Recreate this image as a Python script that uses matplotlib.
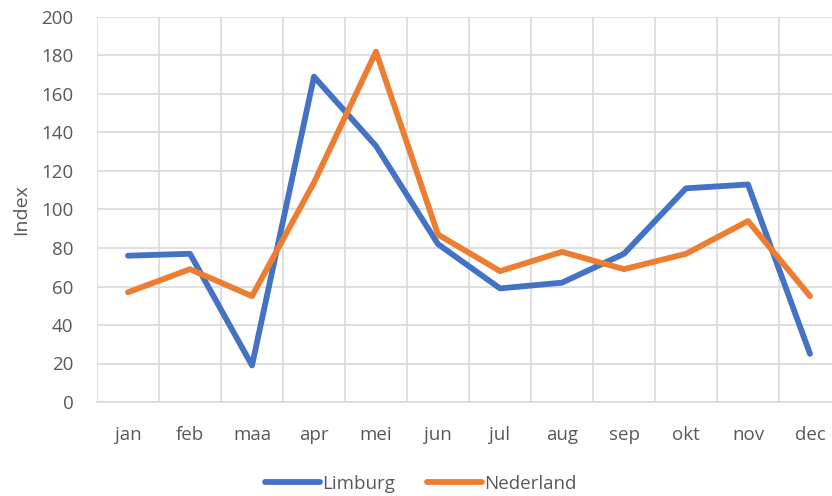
import matplotlib
matplotlib.use("Agg")
import matplotlib.pyplot as plt
import numpy as np

months = ["jan", "feb", "maa", "apr", "mei", "jun", "jul", "aug", "sep", "okt", "nov", "dec"]
limburg = [76, 77, 19, 169, 133, 82, 59, 62, 77, 111, 113, 25]
nederland = [57, 69, 55, 114, 182, 87, 68, 78, 69, 77, 94, 55]
yticks = list(range(0, 201, 20))

plt.rcParams['font.family'] = ['Open Sans', 'DejaVu Sans']
grey = "#595959"

fig = plt.figure(figsize=(8.32, 4.96), dpi=100)
ax = fig.add_axes([97/832, 94/496, 744/832, 385/496])

x = np.arange(len(months))
ax.plot(x, limburg, color="#4472C4", lw=4.2, label="Limburg", solid_joinstyle="round", solid_capstyle="round")
ax.plot(x, nederland, color="#ED7D31", lw=4.2, label="Nederland", solid_joinstyle="round", solid_capstyle="round")

ax.set_xlim(-0.5, len(months) - 0.5)
ax.set_ylim(0, 200)
ax.set_yticks(yticks)
ax.set_xticks(x)
ax.set_xticklabels(months)
ax.set_xticks(np.arange(-0.5, len(months)), minor=True)
ax.grid(True, which="major", axis="y", color="#D9D9D9", lw=1.2)
ax.grid(True, which="minor", axis="x", color="#D9D9D9", lw=1.2)
ax.set_axisbelow(True)
for s in ["top", "right", "left"]:
    ax.spines[s].set_visible(False)
ax.spines["bottom"].set_color("#D9D9D9")
ax.spines["bottom"].set_linewidth(1.2)
ax.tick_params(axis="both", which="both", length=0, colors=grey, labelsize=13.5)
ax.tick_params(axis="y", pad=17)
ax.tick_params(axis="x", pad=17)
ax.set_ylabel("Index", color=grey, fontsize=14, labelpad=8)

leg = fig.legend(loc="center", bbox_to_anchor=(421/832, 1 - 484/496), ncol=2, frameon=False,
                 fontsize=13.5, handlelength=2.9, handletextpad=0.15, columnspacing=1.7,
                 borderpad=0.1)
for t in leg.get_texts():
    t.set_color(grey)

fig.savefig("out.png", dpi=100)
